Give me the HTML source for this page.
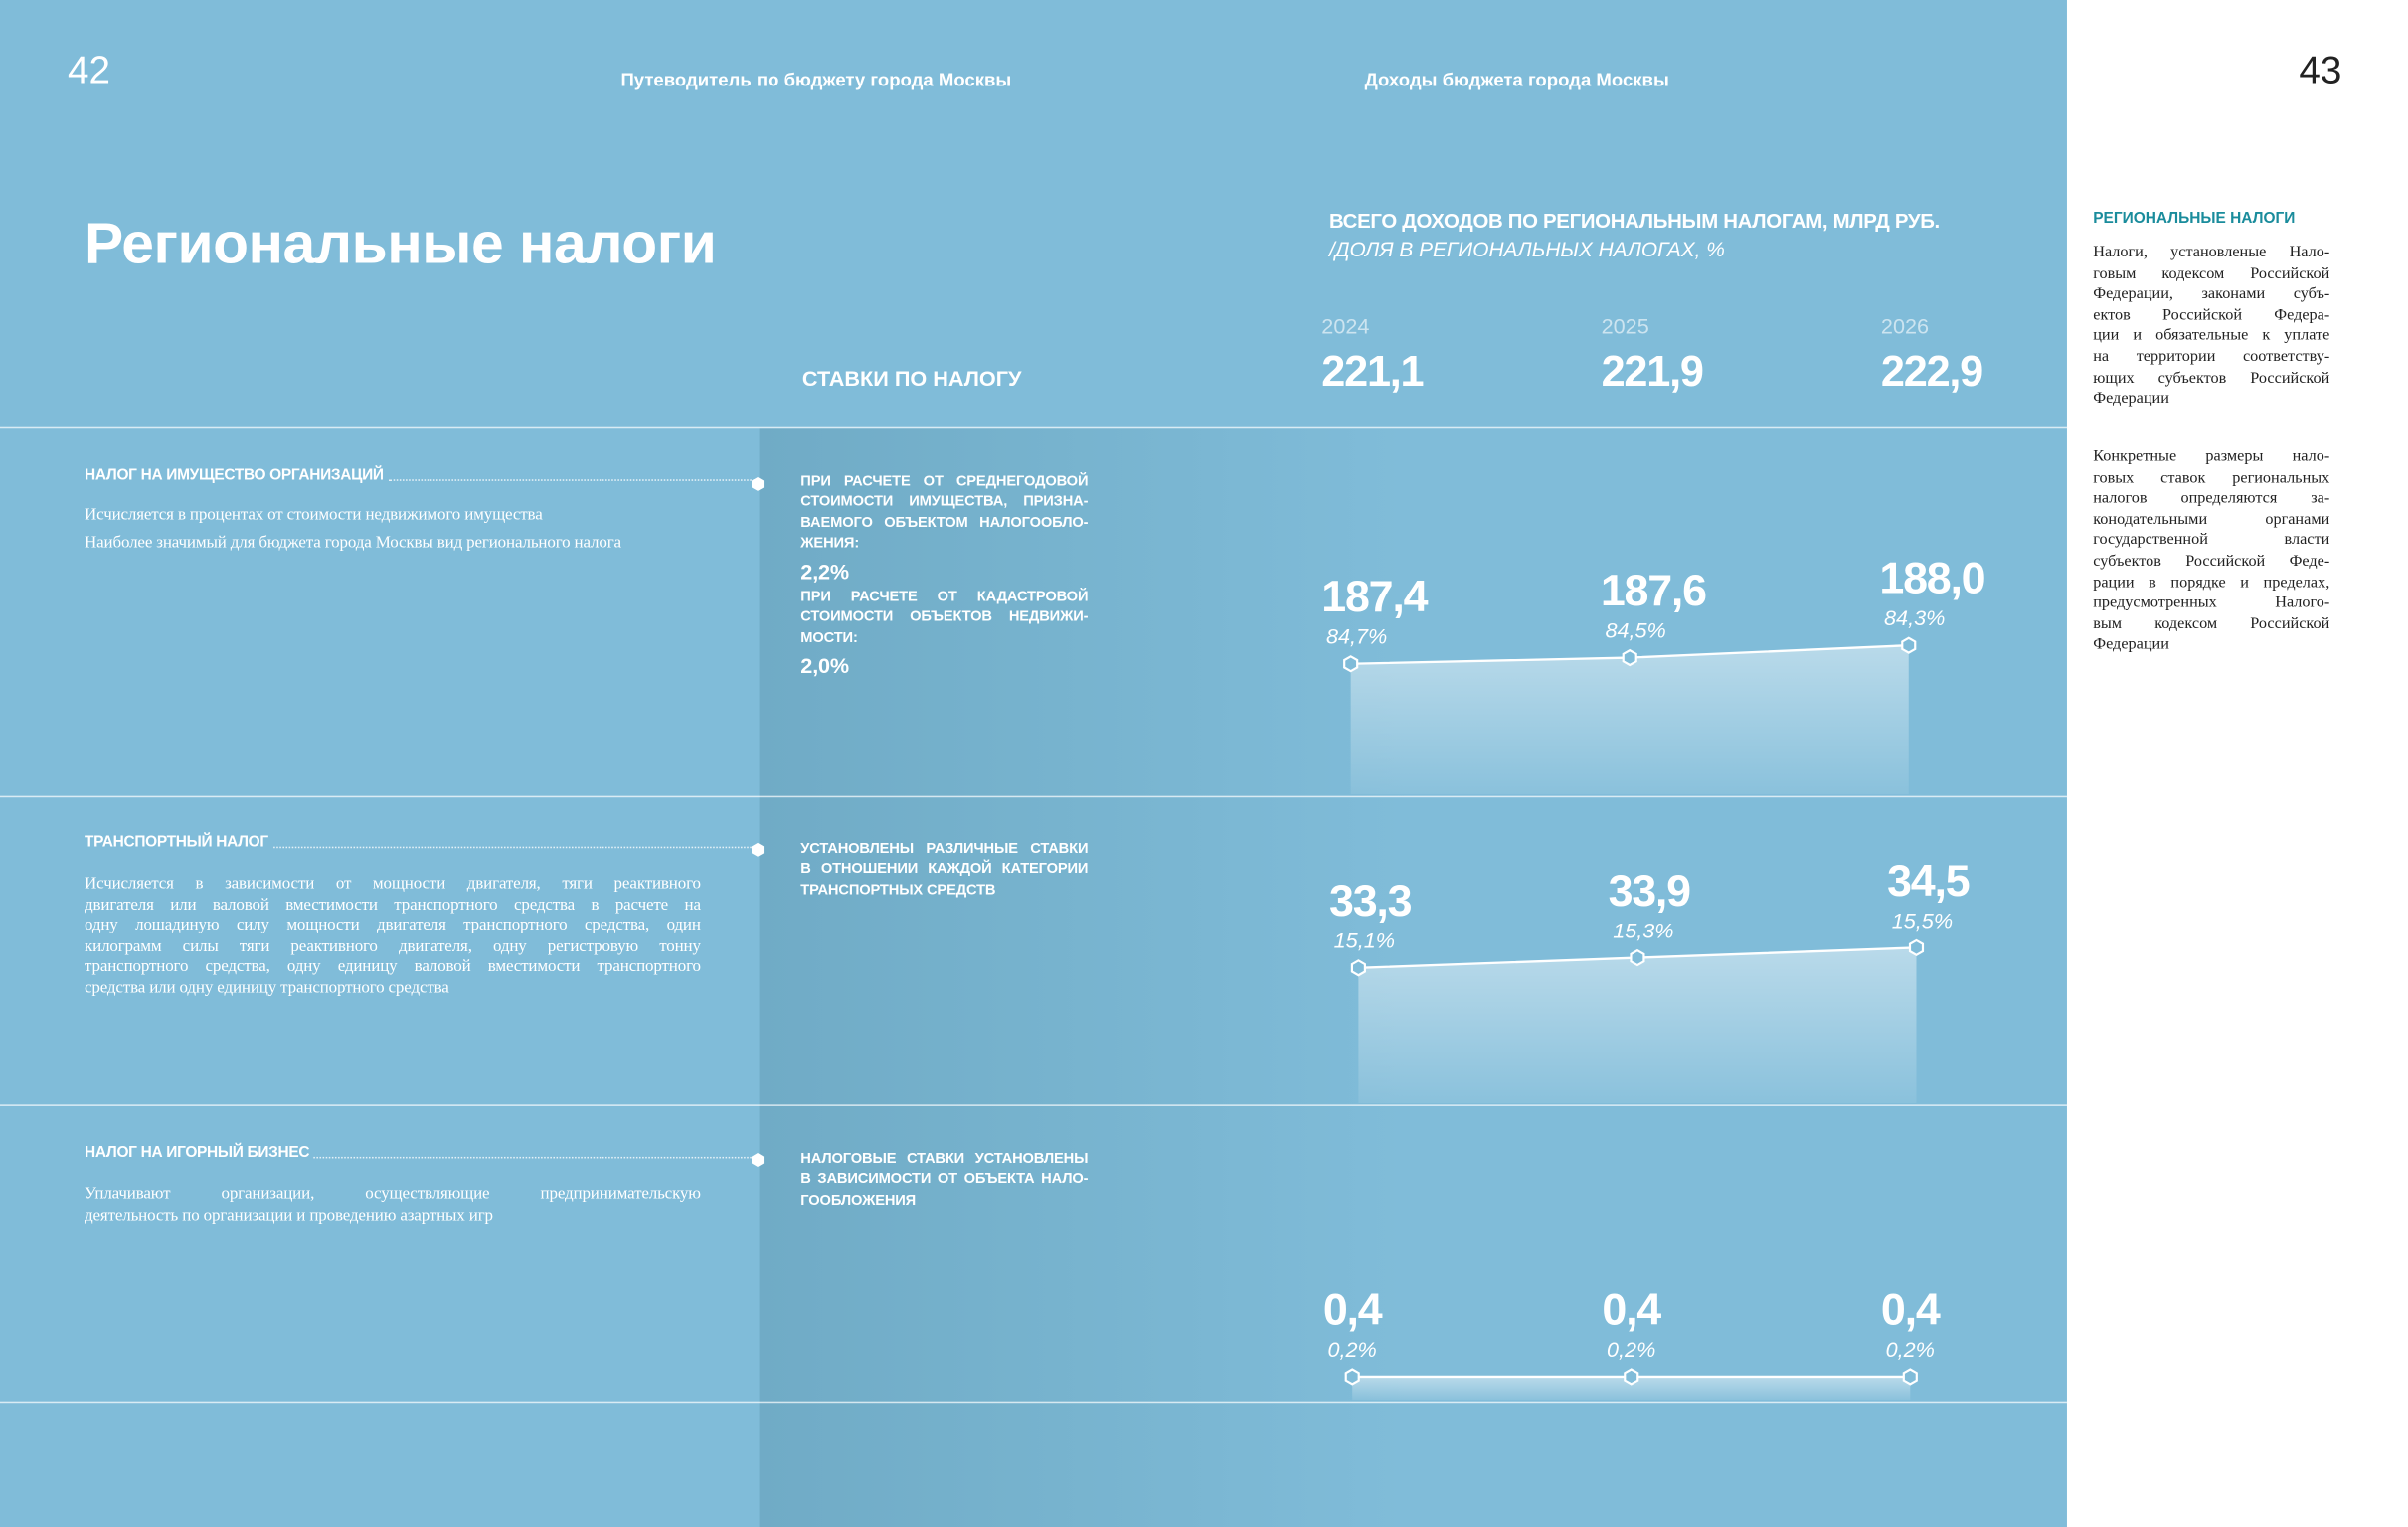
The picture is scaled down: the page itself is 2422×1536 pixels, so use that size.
<!DOCTYPE html>
<html><head><meta charset="utf-8">
<style>
html,body{margin:0;padding:0;width:2422px;height:1536px;overflow:hidden;background:#fff}
#wrap{position:absolute;left:0;top:0;width:1567px;height:994px;transform:scale(1.5457);transform-origin:0 0;font-family:"Liberation Sans Narrow","Liberation Sans",sans-serif;color:#fff}
.abs{position:absolute}
.panel{left:0;top:0;width:1345px;height:994px;background:#80bcd9}
.dark{left:494px;top:279px;width:420px;height:715px;background:linear-gradient(90deg,#70abc6 0%,#76b2cd 40%,#80bcd9 100%)}
.hl{left:0;width:1345px;height:1px;background:rgba(255,255,255,.7)}
.b{font-weight:bold}
.lbl{left:55px;width:440px;display:flex;align-items:flex-end;font-size:10px;font-weight:bold;letter-spacing:-.2px}
.lbl .dots{flex:1;border-bottom:1.5px dotted rgba(255,255,255,.8);margin:0 4px 2px 3px}
.desc{left:55px;width:401px;font-family:"Liberation Serif",serif;font-size:11px;line-height:13.5px;letter-spacing:-.1px}
.mid{left:521px;width:187px;font-size:9.5px;font-weight:bold;line-height:13.4px;letter-spacing:-.1px}
.side{left:1362px;width:154px;font-family:"Liberation Serif",serif;font-size:10.5px;line-height:13.6px;color:#222}
.j{text-align:justify;text-align-last:justify;white-space:nowrap}
.l{white-space:nowrap}
</style></head><body>
<div id="wrap">
<div class="abs panel"></div>
<div class="abs dark"></div>
<div class="abs hl" style="top:278px"></div>
<div class="abs hl" style="top:518px"></div>
<div class="abs hl" style="top:719px"></div>
<div class="abs hl" style="top:912px"></div>

<div class="abs" style="left:44px;top:32px;font-size:25px;font-family:'Liberation Sans',sans-serif">42</div>
<div class="abs" style="left:1496px;top:32px;font-size:25px;color:#222;font-family:'Liberation Sans',sans-serif">43</div>
<div class="abs b" style="left:404px;top:45px;font-size:12px">Путеводитель по бюджету города Москвы</div>
<div class="abs b" style="left:888px;top:45px;font-size:12px">Доходы бюджета города Москвы</div>
<div class="abs b" style="left:55px;top:138px;font-size:38px;letter-spacing:-.3px;font-family:'Liberation Sans',sans-serif">Региональные налоги</div>
<div class="abs b" style="left:522px;top:238px;font-size:14px">СТАВКИ ПО НАЛОГУ</div>
<div class="abs b" style="left:865px;top:136px;font-size:13.2px;letter-spacing:-.2px">ВСЕГО ДОХОДОВ ПО РЕГИОНАЛЬНЫМ НАЛОГАМ, МЛРД РУБ.</div>
<div class="abs" style="left:865px;top:155px;font-size:13.5px;font-style:italic">/ДОЛЯ В РЕГИОНАЛЬНЫХ НАЛОГАХ, %</div>

<div class="abs lbl" style="top:304px"><span>НАЛОГ НА ИМУЩЕСТВО ОРГАНИЗАЦИЙ</span><span class="dots"></span></div>
<div class="abs desc" style="top:329px">Исчисляется в процентах от стоимости недвижимого имущества<div style="height:4px"></div>Наиболее значимый для бюджета города Москвы вид регионального налога</div>
<div class="abs mid" style="top:307px"><div class="j">ПРИ РАСЧЕТЕ ОТ СРЕДНЕГОДОВОЙ</div><div class="j">СТОИМОСТИ ИМУЩЕСТВА, ПРИЗНА-</div><div class="j">ВАЕМОГО ОБЪЕКТОМ НАЛОГООБЛО-</div><div class="l">ЖЕНИЯ:</div><div style="font-size:14px;margin:5px 0 3px">2,2%</div><div class="j">ПРИ РАСЧЕТЕ ОТ КАДАСТРОВОЙ</div><div class="j">СТОИМОСТИ ОБЪЕКТОВ НЕДВИЖИ-</div><div class="l">МОСТИ:</div><div style="font-size:14px;margin-top:5px">2,0%</div></div>

<div class="abs lbl" style="top:543px"><span>ТРАНСПОРТНЫЙ НАЛОГ</span><span class="dots"></span></div>
<div class="abs desc" style="top:569px"><div class="j">Исчисляется в зависимости от мощности двигателя, тяги реактивного</div><div class="j">двигателя или валовой вместимости транспортного средства в расчете на</div><div class="j">одну лошадиную силу мощности двигателя транспортного средства, один</div><div class="j">килограмм силы тяги реактивного двигателя, одну регистровую тонну</div><div class="j">транспортного средства, одну единицу валовой вместимости транспортного</div><div class="l">средства или одну единицу транспортного средства</div></div>
<div class="abs mid" style="top:546px"><div class="j">УСТАНОВЛЕНЫ РАЗЛИЧНЫЕ СТАВКИ</div><div class="j">В ОТНОШЕНИИ КАЖДОЙ КАТЕГОРИИ</div><div class="l">ТРАНСПОРТНЫХ СРЕДСТВ</div></div>

<div class="abs lbl" style="top:745px"><span>НАЛОГ НА ИГОРНЫЙ БИЗНЕС</span><span class="dots"></span></div>
<div class="abs desc" style="top:771px"><div class="j">Уплачивают организации, осуществляющие предпринимательскую</div><div class="l">деятельность по организации и проведению азартных игр</div></div>
<div class="abs mid" style="top:748px"><div class="j">НАЛОГОВЫЕ СТАВКИ УСТАНОВЛЕНЫ</div><div class="j">В ЗАВИСИМОСТИ ОТ ОБЪЕКТА НАЛО-</div><div class="l">ГООБЛОЖЕНИЯ</div></div>

<div class="abs b" style="left:1362px;top:137px;font-size:10px;color:#1a8c9c">РЕГИОНАЛЬНЫЕ НАЛОГИ</div>
<div class="abs side" style="top:158px"><div class="j">Налоги, установленые Нало-</div><div class="j">говым кодексом Российской</div><div class="j">Федерации, законами субъ-</div><div class="j">ектов Российской Федера-</div><div class="j">ции и обязательные к уплате</div><div class="j">на территории соответству-</div><div class="j">ющих субъектов Российской</div><div class="l">Федерации</div></div>
<div class="abs side" style="top:291px"><div class="j">Конкретные размеры нало-</div><div class="j">говых ставок региональных</div><div class="j">налогов определяются за-</div><div class="j">конодательными органами</div><div class="j">государственной власти</div><div class="j">субъектов Российской Феде-</div><div class="j">рации в порядке и пределах,</div><div class="j">предусмотренных Налого-</div><div class="j">вым кодексом Российской</div><div class="l">Федерации</div></div>

<svg id="chart" class="abs" style="left:0;top:0" width="1567" height="994">
<defs><linearGradient id="ag" x1="0" y1="0" x2="0" y2="1"><stop offset="0" stop-color="#fff" stop-opacity=".45"/><stop offset="1" stop-color="#fff" stop-opacity=".08"/></linearGradient></defs>
</svg>
</div>
<script>
const years = ["2024","2025","2026"];
const totals = ["221,1","221,9","222,9"];
const propertyValues = [187.4, 187.6, 188.0];
const propertyShares = [84.7, 84.5, 84.3];
const transportValues = [33.3, 33.9, 34.5];
const transportShares = [15.1, 15.3, 15.5];
const gamblingValues = [0.4, 0.4, 0.4];
const gamblingShares = [0.2, 0.2, 0.2];

const NS="http://www.w3.org/2000/svg";
const svg=document.getElementById('chart');
function xAt(i,off){return 880+off+i*181.5;}
function fmt(v){return v.toFixed(1).replace('.',',');}
function mk(tag,attrs){const e=document.createElementNS(NS,tag);for(const k in attrs)e.setAttribute(k,attrs[k]);svg.appendChild(e);return e;}
function txt(x,y,s,size,w,italic){const t=mk('text',{x:x,y:y,fill:'#fff','font-size':size,'font-weight':w,'font-family':'"Liberation Sans Narrow","Liberation Sans",sans-serif'});if(italic)t.setAttribute('font-style','italic');t.textContent=s;return t;}

years.forEach((y,i)=>{
  const t=txt(860+i*182,217,y,14,'normal');t.setAttribute('fill-opacity','.6');
  
  
  const v=txt(860+i*182,251,totals[i],28,'bold');
  v.setAttribute('letter-spacing','-0.8');
  
  
});

function hex(cx,cy,r){let p=[];for(let k=0;k<6;k++){const a=Math.PI/3*k+Math.PI/6;p.push((cx+r*Math.cos(a)).toFixed(1)+','+(cy+r*Math.sin(a)).toFixed(1));}return p.join(' ');}

function drawSeries(vals,shares,cfg){
  const yAt=v=>cfg.y0-(v-cfg.ref)*cfg.k;
  const pts=vals.map((v,i)=>[xAt(i,cfg.off),yAt(v)]);
  const area=mk('path',{d:'M'+pts.map(p=>p.join(',')).join(' L')+' L'+pts[2][0]+','+cfg.bottom+' L'+pts[0][0]+','+cfg.bottom+' Z',fill:'url(#ag)'});
  
  
  const line=mk('polyline',{points:pts.map(p=>p.join(',')).join(' '),fill:'none',stroke:'#fff','stroke-width':1.5});
  
  
  pts.forEach((p,i)=>{
    const h=mk('polygon',{points:hex(p[0],p[1],4.8),fill:'#80bcd9',stroke:'#fff','stroke-width':1.4});
    
    
    const v=txt(p[0]-19,p[1]-34,fmt(vals[i]),29,'bold');
    v.setAttribute('letter-spacing','-0.8');
    
    
    const s=txt(p[0]-16,p[1]-13,fmt(shares[i])+'%',14,'normal',true);
    
    
  });
}
drawSeries(propertyValues,propertyShares,{name:'property-tax',off:-1,y0:432,ref:187.4,k:20,bottom:517});
drawSeries(transportValues,transportShares,{name:'transport-tax',off:4,y0:630,ref:33.3,k:11,bottom:718});
drawSeries(gamblingValues,gamblingShares,{name:'gambling-tax',off:0,y0:896,ref:0.4,k:20,bottom:911});

[315,553,755].forEach(y=>{
  const m=mk('polygon',{points:hex(493,y,4.5),fill:'#fff'});
  
  
});
</script>
</body></html>
